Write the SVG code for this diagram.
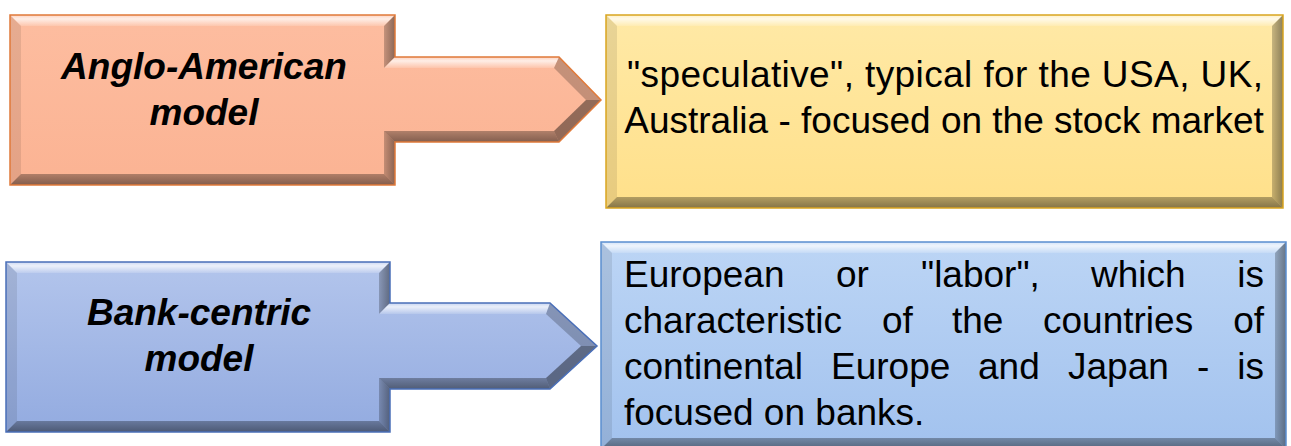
<svg xmlns="http://www.w3.org/2000/svg" width="1291" height="446" viewBox="0 0 1291 446">
  <style>
    .lbl { font-family: "Liberation Sans", Arial, sans-serif; font-size: 37px; fill: #000; }
    .head { font-weight: bold; font-style: italic; text-anchor: middle; }
    .mid { text-anchor: middle; }
    .end { text-anchor: end; }
    /* bevel faces, laid over the flat face colour */
    .bt { fill: url(#bevTop); }
    .bl { fill: #000; fill-opacity: 0.09; }
    .br { fill: url(#bevRight); }
    .bb { fill: url(#bevBottom); }
    .bdu { fill: #000; fill-opacity: 0.22; }
    .bdl { fill: #000; fill-opacity: 0.42; }
    .edge { fill: none; stroke-width: 1.5; stroke-linejoin: miter; }
  </style>
  <defs>
    <linearGradient id="bevTop" x1="0" y1="0" x2="0" y2="1">
      <stop offset="0" stop-color="#fff" stop-opacity="0.35"/>
      <stop offset="0.35" stop-color="#fff" stop-opacity="0.75"/>
      <stop offset="1" stop-color="#fff" stop-opacity="0.15"/>
    </linearGradient>
    <linearGradient id="bevBottom" x1="0" y1="0" x2="0" y2="1">
      <stop offset="0" stop-color="#000" stop-opacity="0.3"/>
      <stop offset="1" stop-color="#000" stop-opacity="0.48"/>
    </linearGradient>
    <linearGradient id="bevRight" x1="0" y1="0" x2="1" y2="0">
      <stop offset="0" stop-color="#000" stop-opacity="0.22"/>
      <stop offset="1" stop-color="#000" stop-opacity="0.45"/>
    </linearGradient>
    <linearGradient id="faceSalmon" x1="0" y1="0" x2="0" y2="1">
      <stop offset="0" stop-color="#FDBDA0"/>
      <stop offset="1" stop-color="#FBB393"/>
    </linearGradient>
    <linearGradient id="faceYellow" x1="0" y1="0" x2="0" y2="1">
      <stop offset="0" stop-color="#FFE9A6"/>
      <stop offset="1" stop-color="#FFE08A"/>
    </linearGradient>
    <linearGradient id="faceBlue" x1="0" y1="0" x2="0" y2="1">
      <stop offset="0" stop-color="#B3C5EC"/>
      <stop offset="1" stop-color="#93ABE0"/>
    </linearGradient>
    <linearGradient id="faceSky" x1="0" y1="0" x2="0" y2="1">
      <stop offset="0" stop-color="#BCD5F5"/>
      <stop offset="1" stop-color="#A2C2EE"/>
    </linearGradient>
  </defs>

  <!-- Anglo-American model: box with arrow pointing right -->
  <g id="anglo-american">
    <polygon fill="url(#faceSalmon)" points="10,15 395,15 395,57 559,57 601,100 559,142 395,142 395,185 10,185"/>
    <polygon class="bt" points="10,15 395,15 384,26 21,26"/>
    <polygon class="br" points="395,15 395,57 384,68 384,26"/>
    <polygon class="bt" points="395,57 559,57 554,68 384,68"/>
    <polygon class="bdu" points="559,57 601,100 586,100 554,68"/>
    <polygon class="bdl" points="601,100 559,142 554,131 586,100"/>
    <polygon class="bb" points="559,142 395,142 384,131 554,131"/>
    <polygon class="br" points="395,142 395,185 384,174 384,131"/>
    <polygon class="bb" points="395,185 10,185 21,174 384,174"/>
    <polygon class="bl" points="10,185 10,15 21,26 21,174"/>
    <polygon class="edge" stroke="#E07A3A" points="10,15 395,15 395,57 559,57 601,100 559,142 395,142 395,185 10,185"/>
    <text class="lbl head" x="204" y="79">Anglo-American</text>
    <text class="lbl head" x="204" y="125">model</text>
  </g>

  <!-- speculative model description -->
  <g id="speculative">
    <rect x="606" y="15" width="677" height="193" fill="url(#faceYellow)"/>
    <polygon class="bt" points="606,15 1283,15 1272,26 617,26"/>
    <polygon class="br" points="1283,15 1283,208 1272,197 1272,26"/>
    <polygon class="bb" points="1283,208 606,208 617,197 1272,197"/>
    <polygon class="bl" points="606,208 606,15 617,26 617,197"/>
    <rect class="edge" stroke="#D9A520" x="606" y="15" width="677" height="193"/>
    <text class="lbl mid" x="945" y="87" textLength="636" lengthAdjust="spacing">"speculative", typical for the USA, UK,</text>
    <text class="lbl mid" x="944" y="133">Australia - focused on the stock market</text>
  </g>

  <!-- Bank-centric model: box with arrow pointing right -->
  <g id="bank-centric">
    <polygon fill="url(#faceBlue)" points="6,262 390,262 390,303 550,303 597,346 550,389 390,389 390,432 6,432"/>
    <polygon class="bt" points="6,262 390,262 379,273 17,273"/>
    <polygon class="br" points="390,262 390,303 379,314 379,273"/>
    <polygon class="bt" points="390,303 550,303 546,314 379,314"/>
    <polygon class="bdu" points="550,303 597,346 581,346 546,314"/>
    <polygon class="bdl" points="597,346 550,389 546,378 581,346"/>
    <polygon class="bb" points="550,389 390,389 379,378 546,378"/>
    <polygon class="br" points="390,389 390,432 379,421 379,378"/>
    <polygon class="bb" points="390,432 6,432 17,421 379,421"/>
    <polygon class="bl" points="6,432 6,262 17,273 17,421"/>
    <polygon class="edge" stroke="#4A6FB8" points="6,262 390,262 390,303 550,303 597,346 550,389 390,389 390,432 6,432"/>
    <text class="lbl head" x="199" y="325">Bank-centric</text>
    <text class="lbl head" x="199" y="371">model</text>
  </g>

  <!-- European / labor model description, justified -->
  <g id="european">
    <rect x="601" y="242" width="685" height="207" fill="url(#faceSky)"/>
    <polygon class="bt" points="601,242 1286,242 1275,253 612,253"/>
    <polygon class="br" points="1286,242 1286,449 1275,438 1275,253"/>
    <polygon class="bb" points="1286,449 601,449 612,438 1275,438"/>
    <polygon class="bl" points="601,449 601,242 612,253 612,438"/>
    <rect class="edge" stroke="#5B8FD0" x="601" y="242" width="685" height="207"/>
    <text class="lbl" y="287"><tspan x="624">European</tspan><tspan x="836">or</tspan><tspan x="921">"labor",</tspan><tspan x="1091">which</tspan><tspan x="1264" class="end">is</tspan></text>
    <text class="lbl" y="333"><tspan x="624">characteristic</tspan><tspan x="882">of</tspan><tspan x="952">the</tspan><tspan x="1043">countries</tspan><tspan x="1264" class="end">of</tspan></text>
    <text class="lbl" y="379"><tspan x="624">continental</tspan><tspan x="831">Europe</tspan><tspan x="978">and</tspan><tspan x="1068">Japan</tspan><tspan x="1197">-</tspan><tspan x="1264" class="end">is</tspan></text>
    <text class="lbl" x="624" y="425">focused on banks.</text>
  </g>
</svg>
